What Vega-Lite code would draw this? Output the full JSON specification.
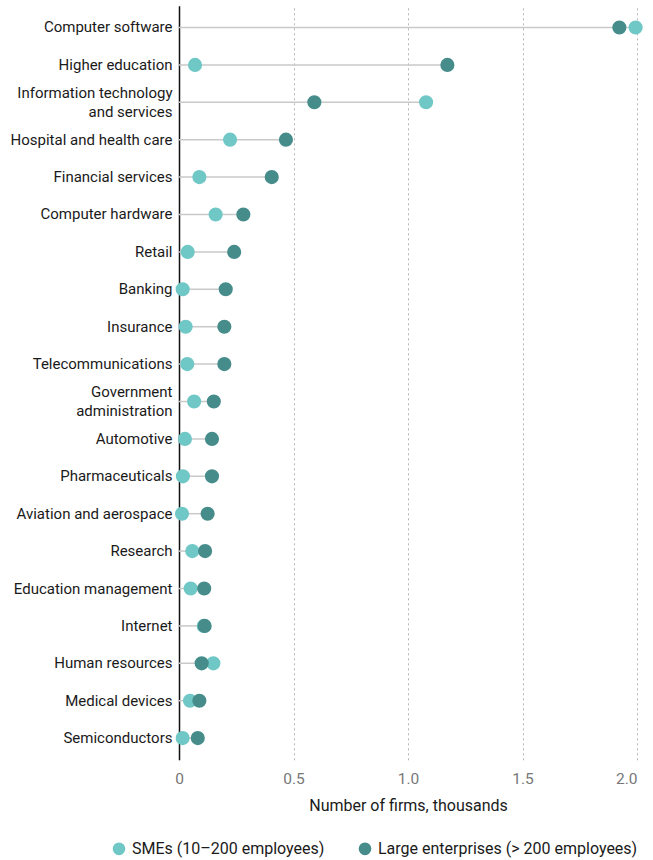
{
  "$schema": "https://vega.github.io/schema/vega-lite/v6.json",
  "autosize": {"type": "none"},
  "padding": {"left": 179, "top": 5.8, "right": 16, "bottom": 100.2},
  "width": 458,
  "height": 754,
  "background": "white",
  "config": {
    "view": {"stroke": null},
    "font": "Roboto",
    "axis": {"labelFont": "Roboto", "titleFont": "Roboto"},
    "legend": {"labelFont": "Roboto"}
  },
  "data": {
    "values": [
      {"industry": "Computer software", "type": "SMEs (10–200 employees)", "value": 1.994},
      {"industry": "Higher education", "type": "SMEs (10–200 employees)", "value": 0.070},
      {"industry": "Information technology and services", "type": "SMEs (10–200 employees)", "value": 1.079},
      {"industry": "Hospital and health care", "type": "SMEs (10–200 employees)", "value": 0.223},
      {"industry": "Financial services", "type": "SMEs (10–200 employees)", "value": 0.089},
      {"industry": "Computer hardware", "type": "SMEs (10–200 employees)", "value": 0.160},
      {"industry": "Retail", "type": "SMEs (10–200 employees)", "value": 0.038},
      {"industry": "Banking", "type": "SMEs (10–200 employees)", "value": 0.016},
      {"industry": "Insurance", "type": "SMEs (10–200 employees)", "value": 0.029},
      {"industry": "Telecommunications", "type": "SMEs (10–200 employees)", "value": 0.036},
      {"industry": "Government administration", "type": "SMEs (10–200 employees)", "value": 0.066},
      {"industry": "Automotive", "type": "SMEs (10–200 employees)", "value": 0.026},
      {"industry": "Pharmaceuticals", "type": "SMEs (10–200 employees)", "value": 0.017},
      {"industry": "Aviation and aerospace", "type": "SMEs (10–200 employees)", "value": 0.013},
      {"industry": "Research", "type": "SMEs (10–200 employees)", "value": 0.058},
      {"industry": "Education management", "type": "SMEs (10–200 employees)", "value": 0.051},
      {"industry": "Internet", "type": "SMEs (10–200 employees)", "value": 0.108},
      {"industry": "Human resources", "type": "SMEs (10–200 employees)", "value": 0.150},
      {"industry": "Medical devices", "type": "SMEs (10–200 employees)", "value": 0.048},
      {"industry": "Semiconductors", "type": "SMEs (10–200 employees)", "value": 0.016},
      {"industry": "Computer software", "type": "Large enterprises (> 200 employees)", "value": 1.923},
      {"industry": "Higher education", "type": "Large enterprises (> 200 employees)", "value": 1.172},
      {"industry": "Information technology and services", "type": "Large enterprises (> 200 employees)", "value": 0.591},
      {"industry": "Hospital and health care", "type": "Large enterprises (> 200 employees)", "value": 0.467},
      {"industry": "Financial services", "type": "Large enterprises (> 200 employees)", "value": 0.405},
      {"industry": "Computer hardware", "type": "Large enterprises (> 200 employees)", "value": 0.281},
      {"industry": "Retail", "type": "Large enterprises (> 200 employees)", "value": 0.241},
      {"industry": "Banking", "type": "Large enterprises (> 200 employees)", "value": 0.204},
      {"industry": "Insurance", "type": "Large enterprises (> 200 employees)", "value": 0.198},
      {"industry": "Telecommunications", "type": "Large enterprises (> 200 employees)", "value": 0.198},
      {"industry": "Government administration", "type": "Large enterprises (> 200 employees)", "value": 0.152},
      {"industry": "Automotive", "type": "Large enterprises (> 200 employees)", "value": 0.144},
      {"industry": "Pharmaceuticals", "type": "Large enterprises (> 200 employees)", "value": 0.144},
      {"industry": "Aviation and aerospace", "type": "Large enterprises (> 200 employees)", "value": 0.125},
      {"industry": "Research", "type": "Large enterprises (> 200 employees)", "value": 0.114},
      {"industry": "Education management", "type": "Large enterprises (> 200 employees)", "value": 0.110},
      {"industry": "Internet", "type": "Large enterprises (> 200 employees)", "value": 0.112},
      {"industry": "Human resources", "type": "Large enterprises (> 200 employees)", "value": 0.099},
      {"industry": "Medical devices", "type": "Large enterprises (> 200 employees)", "value": 0.089},
      {"industry": "Semiconductors", "type": "Large enterprises (> 200 employees)", "value": 0.082}
    ]
  },
  "encoding": {
    "y": {
      "field": "industry",
      "type": "nominal",
      "sort": ["Computer software", "Higher education", "Information technology and services", "Hospital and health care", "Financial services", "Computer hardware", "Retail", "Banking", "Insurance", "Telecommunications", "Government administration", "Automotive", "Pharmaceuticals", "Aviation and aerospace", "Research", "Education management", "Internet", "Human resources", "Medical devices", "Semiconductors"],
      "scale": {"type": "band", "paddingInner": 0, "paddingOuter": 0.08},
      "axis": {
        "title": null,
        "ticks": false,
        "domainColor": "#111111",
        "domainWidth": 1.5,
        "labelPadding": 7,
        "labelFontSize": 15,
        "labelColor": "#1a1a1a",
        "labelLineHeight": 18.5,
        "labelLimit": 300,
        "labelOffset": {"expr": "(datum.value == 'Information technology and services' || datum.value == 'Government administration') ? -9.25 : 0"},
        "labelExpr": "datum.value == 'Information technology and services' ? ['Information technology', 'and services'] : datum.value == 'Government administration' ? ['Government', 'administration'] : datum.label"
      }
    }
  },
  "layer": [
    {
      "mark": {"type": "rule", "color": "#c9c9c9", "strokeWidth": 1.5},
      "encoding": {
        "x": {"aggregate": "max", "field": "value", "type": "quantitative", "scale": {"domain": [0, 2], "nice": false}},
        "x2": {"datum": 0}
      }
    },
    {
      "mark": {"type": "circle", "size": 200, "opacity": 1},
      "encoding": {
        "x": {
          "field": "value",
          "type": "quantitative",
          "scale": {"domain": [0, 2], "nice": false},
          "axis": {
            "title": "Number of firms, thousands",
            "values": [0, 0.5, 1, 1.5, 2],
            "labelExpr": "datum.value == 0 ? '0' : format(datum.value, '.1f')",
            "labelAlign": {"expr": "datum.value == 2 ? 'right' : 'center'"},
            "domain": false,
            "ticks": false,
            "grid": true,
            "gridDash": [2, 3],
            "gridColor": "#b5b5b5",
            "gridWidth": 1,
            "labelFontSize": 15.5,
            "labelColor": "#777777",
            "labelPadding": 12,
            "titleFontSize": 16,
            "titleFontWeight": "normal",
            "titleColor": "#1a1a1a",
            "titlePadding": 10
          }
        },
        "color": {
          "field": "type",
          "type": "nominal",
          "scale": {
            "domain": ["SMEs (10–200 employees)", "Large enterprises (> 200 employees)"],
            "range": ["#6fc7c6", "#458c8b"]
          },
          "legend": {
            "title": null,
            "orient": "none",
            "direction": "horizontal",
            "legendX": -68,
            "legendY": 835,
            "symbolType": "circle",
            "symbolSize": 160,
            "symbolStrokeWidth": 0,
            "symbolOpacity": 1,
            "labelFontSize": 16,
            "labelColor": "#1a1a1a",
            "labelOffset": 5,
            "columnPadding": 32,
            "labelLimit": 400
          }
        }
      }
    }
  ]
}
